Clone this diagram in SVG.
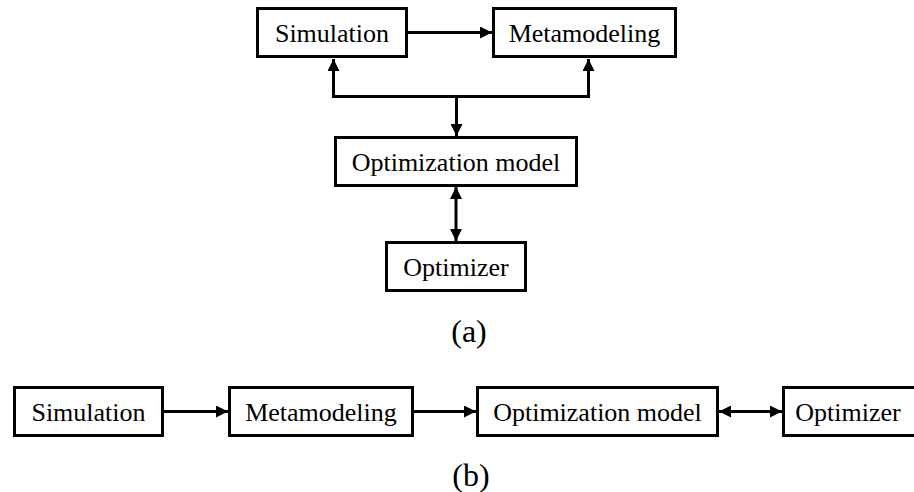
<svg xmlns="http://www.w3.org/2000/svg" width="914" height="492" viewBox="0 0 914 492">
  <style>
    .box { fill: #ffffff; stroke: #000000; stroke-width: 3; }
    .lbl { font-family: "Liberation Serif", "Times New Roman", serif; font-size: 26px; fill: #000000; text-anchor: middle; }
    .cap { font-family: "Liberation Serif", "Times New Roman", serif; font-size: 32px; fill: #000000; text-anchor: middle; }
    .wire { fill: none; stroke: #000000; stroke-width: 3; }
  </style>
  <defs>
    <marker id="head" viewBox="0 0 12 12" refX="12" refY="6" markerWidth="12" markerHeight="12" markerUnits="userSpaceOnUse" orient="auto-start-reverse">
      <path d="M0,0 L12,6 L0,12 Z" fill="#000000"/>
    </marker>
  </defs>
  <rect width="914" height="492" fill="#ffffff"/>

  <!-- (a) layout -->
  <g id="a-simulation">
    <rect class="box" x="257.5" y="8.5" width="149" height="48"/>
    <text class="lbl" x="332" y="42">Simulation</text>
  </g>
  <g id="a-metamodeling">
    <rect class="box" x="493.5" y="8.5" width="182" height="48"/>
    <text class="lbl" x="584.5" y="42">Metamodeling</text>
  </g>
  <g id="a-optimization-model">
    <rect class="box" x="335.5" y="137.5" width="241" height="48"/>
    <text class="lbl" x="456" y="171">Optimization model</text>
  </g>
  <g id="a-optimizer">
    <rect class="box" x="386.5" y="242.5" width="139" height="48"/>
    <text class="lbl" x="456" y="276">Optimizer</text>
  </g>
  <text class="cap" x="469" y="342">(a)</text>

  <!-- (b) layout -->
  <g id="b-simulation">
    <rect class="box" x="14.5" y="387.5" width="148" height="48"/>
    <text class="lbl" x="88.5" y="421">Simulation</text>
  </g>
  <g id="b-metamodeling">
    <rect class="box" x="229.5" y="387.5" width="183" height="48"/>
    <text class="lbl" x="321" y="421">Metamodeling</text>
  </g>
  <g id="b-optimization-model">
    <rect class="box" x="477.5" y="387.5" width="240" height="48"/>
    <text class="lbl" x="597.5" y="421">Optimization model</text>
  </g>
  <g id="b-optimizer">
    <rect class="box" x="783.5" y="387.5" width="140" height="48"/>
    <text class="lbl" x="848" y="421">Optimizer</text>
  </g>
  <text class="cap" x="471" y="486">(b)</text>

  <g id="connectors">
    <!-- (a) -->
    <line class="wire" x1="408" y1="32.5" x2="492" y2="32.5" marker-end="url(#head)"/>
    <polyline class="wire" points="333.5,59 333.5,96.5 588.5,96.5 588.5,59" marker-start="url(#head)" marker-end="url(#head)"/>
    <line class="wire" x1="456.5" y1="96.5" x2="456.5" y2="136" marker-end="url(#head)"/>
    <line class="wire" x1="456" y1="187" x2="456" y2="241" marker-start="url(#head)" marker-end="url(#head)"/>
    <!-- (b) -->
    <line class="wire" x1="164" y1="411.5" x2="228" y2="411.5" marker-end="url(#head)"/>
    <line class="wire" x1="414" y1="411.5" x2="476" y2="411.5" marker-end="url(#head)"/>
    <line class="wire" x1="719" y1="411.5" x2="782" y2="411.5" marker-start="url(#head)" marker-end="url(#head)"/>
  </g>
</svg>
